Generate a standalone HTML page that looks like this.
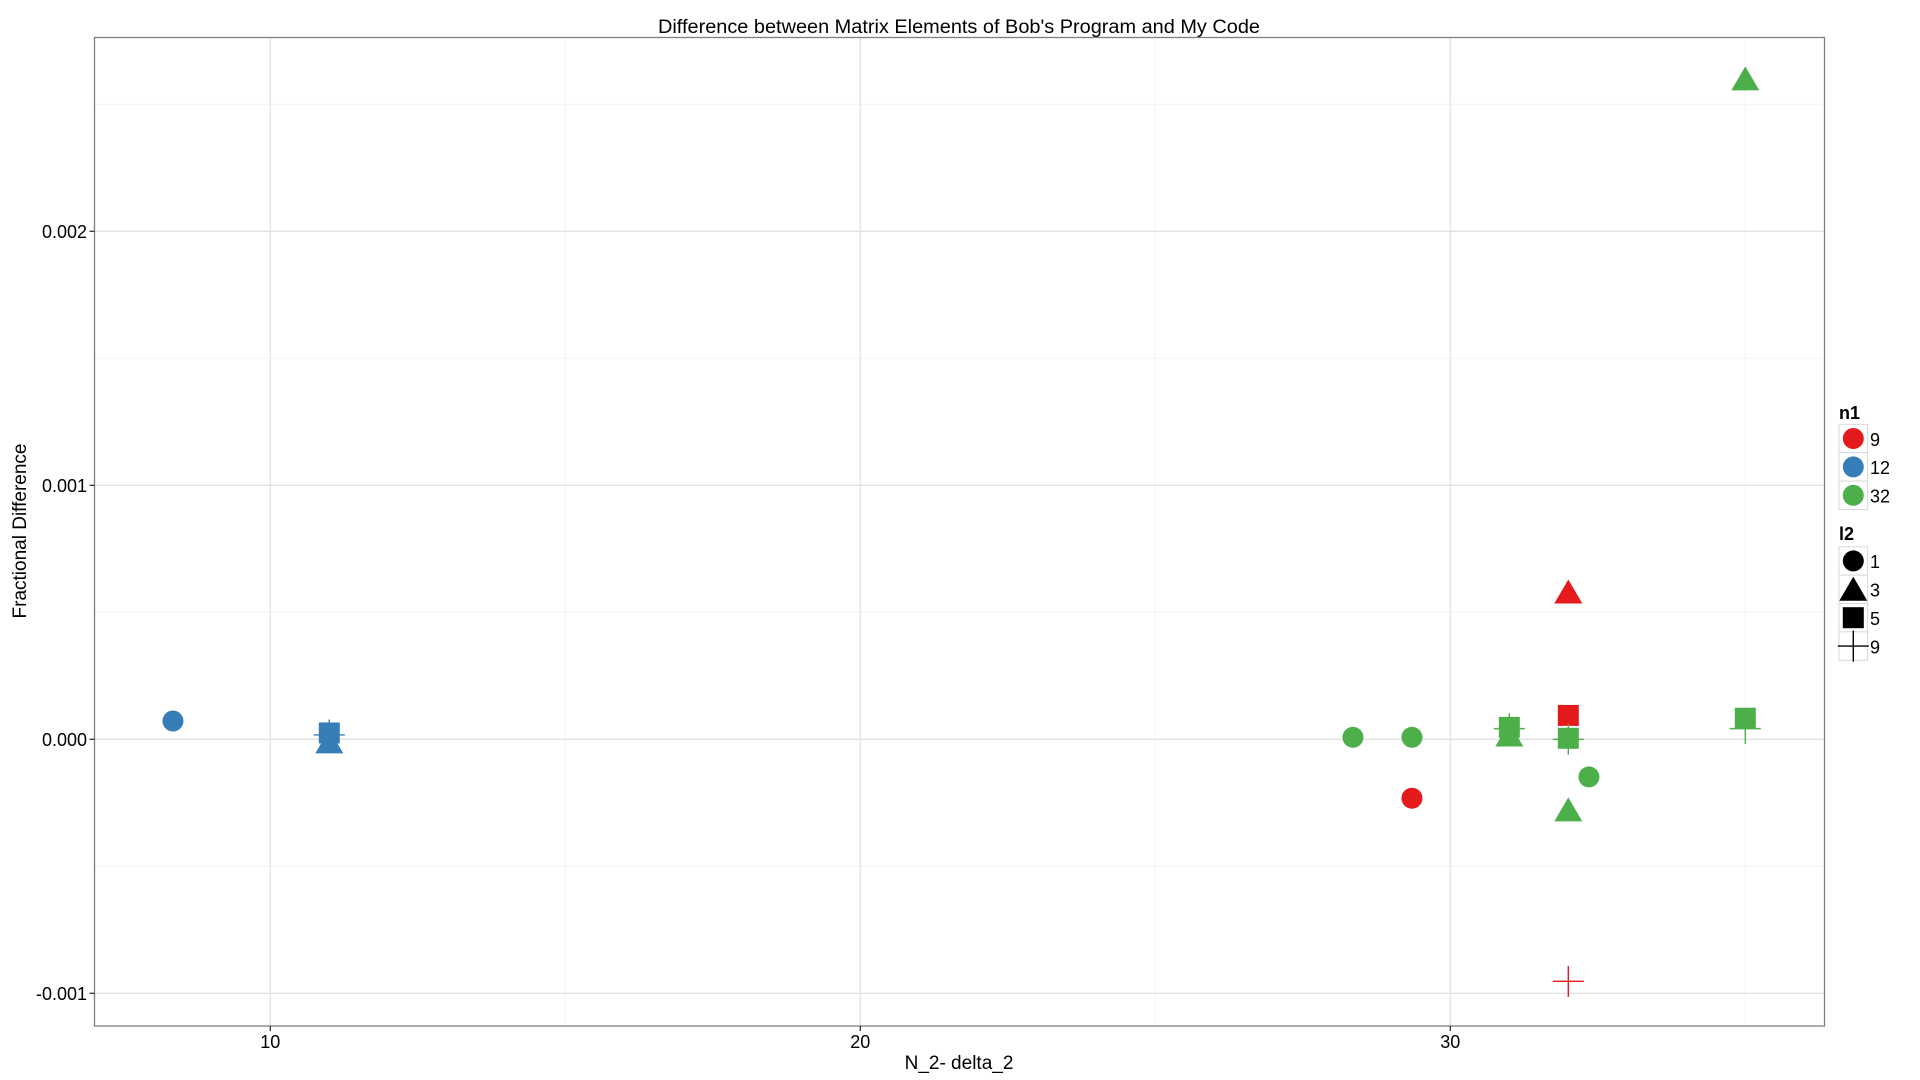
<!DOCTYPE html>
<html><head><meta charset="utf-8"><style>
html,body{margin:0;padding:0;background:#fff;}
svg{display:block;font-family:"Liberation Sans",Arial,sans-serif;}
</style></head><body>
<svg id="chart" width="1920" height="1080" viewBox="0 0 1920 1080">
<rect x="0" y="0" width="1920" height="1080" fill="#fff"/>
<g id="grid"></g>
<g id="points"></g>
<rect x="94.5" y="37.5" width="1730" height="988.5" fill="none" stroke="#7f7f7f" stroke-width="1.3"/>
<g id="axes"></g>
<text x="959" y="33" text-anchor="middle" font-size="19" textLength="602" lengthAdjust="spacingAndGlyphs">Difference between Matrix Elements of Bob's Program and My Code</text>
<text x="959" y="1069" text-anchor="middle" font-size="19">N_2- delta_2</text>
<text transform="translate(26,531) rotate(-90)" text-anchor="middle" font-size="19">Fractional Difference</text>
<g id="legend"></g>
</svg>
<script>
const xValues = [8.35, 11, 11, 11, 28.35, 29.35, 29.35, 31, 31, 31, 32, 32, 32, 32, 32.35, 32, 32, 35, 35, 35];
const yValues = [0.000072, 0.000025, -0.00001, 0.000017, 0.000008, 0.000008, -0.000232, 0.000047, 0.000042, 0.000017, 0.000094, 0.00058, 0.000004, 0, -0.000148, -0.000278, -0.000953, 0.0026, 0.000083, 0.000042];
const n1Values = [12, 12, 12, 12, 32, 32, 9, 32, 32, 32, 9, 9, 32, 32, 32, 32, 9, 32, 32, 32];
const l2Values = [1, 5, 3, 9, 1, 1, 1, 5, 9, 3, 5, 3, 5, 9, 1, 3, 9, 3, 5, 9];
const xTicks = [10, 20, 30];
const xMinor = [15, 25, 35];
const yTicks = [-0.001, 0, 0.001, 0.002];
const yTickLabels = ["-0.001", "0.000", "0.001", "0.002"];
const yMinor = [-0.0005, 0.0005, 0.0015, 0.0025];
const n1Levels = [9, 12, 32];
const l2Levels = [1, 3, 5, 9];

const colors = {9: "#e41a1c", 12: "#377eb8", 32: "#4daf4a"};
const PL = 94.5, PR = 1824.5, PT = 37.5, PB = 1026;
function X(v){ return 270.3 + (v - 10) * 59.0; }
function Y(v){ return 739.3 - v * 254000; }
const NS = "http://www.w3.org/2000/svg";
function mk(tag, attrs, parent){ const e = document.createElementNS(NS, tag); for (const k in attrs) e.setAttribute(k, attrs[k]); parent.appendChild(e); return e; }
const grid = document.getElementById('grid'), pts = document.getElementById('points'), axes = document.getElementById('axes'), leg = document.getElementById('legend');

xMinor.forEach(v => { const l = mk('line', {x1: X(v), x2: X(v), y1: PT, y2: PB, stroke: '#f4f4f4', 'stroke-width': 1}, grid);

 });
yMinor.forEach(v => { const l = mk('line', {x1: PL, x2: PR, y1: Y(v), y2: Y(v), stroke: '#f4f4f4', 'stroke-width': 1}, grid);

 });
xTicks.forEach(v => { const l = mk('line', {x1: X(v), x2: X(v), y1: PT, y2: PB, stroke: '#e3e3e3', 'stroke-width': 1.3}, grid);


const t = mk('line', {x1: X(v), x2: X(v), y1: PB, y2: PB + 5, stroke: '#333', 'stroke-width': 1.3}, axes);


const tx = mk('text', {x: X(v), y: 1048, 'text-anchor': 'middle', 'font-size': 18}, axes);
tx.textContent = v;

 });
yTicks.forEach((v, i) => { const l = mk('line', {x1: PL, x2: PR, y1: Y(v), y2: Y(v), stroke: '#e3e3e3', 'stroke-width': 1.3}, grid);


const t = mk('line', {x1: PL - 5, x2: PL, y1: Y(v), y2: Y(v), stroke: '#333', 'stroke-width': 1.3}, axes);


const tx = mk('text', {x: 87, y: Y(v) + 6.5, 'text-anchor': 'end', 'font-size': 18}, axes);
tx.textContent = yTickLabels[i];

 });

function shape(parent, shp, cx, cy, col){
  let e;
  if (shp === 1) e = mk('circle', {cx: cx, cy: cy, r: 10.5, fill: col}, parent);
  else if (shp === 5) e = mk('rect', {x: cx - 10.5, y: cy - 10.5, width: 21, height: 21, fill: col}, parent);
  else if (shp === 3) e = mk('polygon', {points: `${cx},${cy - 12.5} ${cx + 14},${cy + 11.5} ${cx - 14},${cy + 11.5}`, fill: col}, parent);
  else e = mk('path', {d: `M${cx - 15.5},${cy}H${cx + 15.5}M${cx},${cy - 15.5}V${cy + 15.5}`, stroke: col, 'stroke-width': 1.4, fill: 'none'}, parent);
  return e;
}
xValues.forEach((xv, i) => {
  const e = shape(pts, l2Values[i], X(xv), Y(yValues[i]), colors[n1Values[i]]);
  
  
});

// legend
const t1 = mk('text', {x: 1839, y: 419, 'font-size': 18, 'font-weight': 'bold'}, leg);
t1.textContent = 'n1';


n1Levels.forEach((lv, i) => {
  const y0 = 424.3 + i * 28.4;
  const g = mk('g', {}, leg);
  
  
  mk('rect', {x: 1839, y: y0, width: 28.6, height: 28.4, fill: '#fff', stroke: '#d9d9d9', 'stroke-width': 1}, g);
  mk('circle', {cx: 1853.3, cy: y0 + 14.2, r: 10.5, fill: colors[lv]}, g);
  const t = mk('text', {x: 1870, y: y0 + 21.5, 'font-size': 18}, g);
  t.textContent = lv;
});
const t2 = mk('text', {x: 1839, y: 540, 'font-size': 18, 'font-weight': 'bold'}, leg);
t2.textContent = 'l2';


l2Levels.forEach((lv, i) => {
  const y0 = 546.7 + i * 28.4;
  const g = mk('g', {}, leg);
  
  
  mk('rect', {x: 1839, y: y0, width: 28.6, height: 28.4, fill: '#fff', stroke: '#d9d9d9', 'stroke-width': 1}, g);
  shape(g, lv, 1853.3, y0 + 14.2, '#000');
  const t = mk('text', {x: 1870, y: y0 + 21.5, 'font-size': 18}, g);
  t.textContent = lv;
});
</script>
</body></html>
